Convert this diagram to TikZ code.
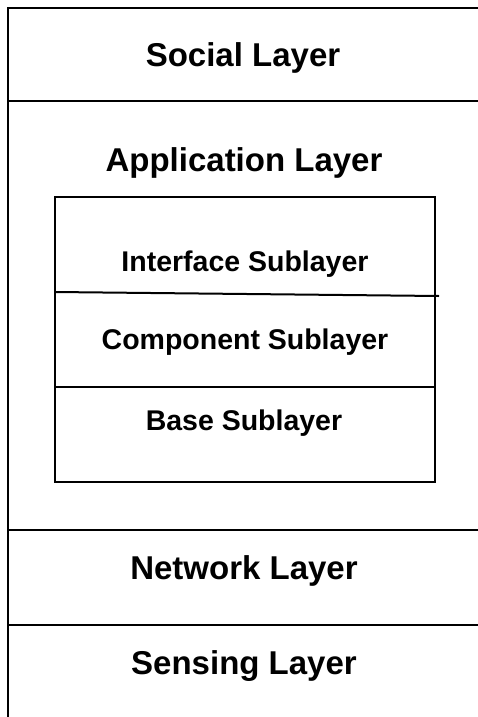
\documentclass[tikz,border=0pt]{standalone}
\usepackage{fontspec}
\setmainfont{Liberation Sans}
\tikzset{
  line/.style={line width=2pt, black},
  layertext/.style={font=\fontsize{33}{38}\selectfont\bfseries, inner sep=0pt, anchor=center},
  subtext/.style={font=\fontsize{28.5}{33}\selectfont\bfseries, inner sep=0pt, anchor=center}
}
\begin{document}
\begin{tikzpicture}[x=1pt,y=-1pt]
\useasboundingbox (0,0) rectangle (478,717);
% outer frame
\coordinate (tl) at (8,8);
\coordinate (tr) at (480,8);
\coordinate (bl) at (8,720);
\draw[line] (tr) -- (tl) -- (bl);
\coordinate (h1l) at (8,101); \coordinate (h1r) at (480,101);
\coordinate (h2l) at (8,530); \coordinate (h2r) at (480,530);
\coordinate (h3l) at (8,625); \coordinate (h3r) at (480,625);
\draw[line] (h1l) -- (h1r);
\draw[line] (h2l) -- (h2r);
\draw[line] (h3l) -- (h3r);
% inner box
\coordinate (ia) at (55,197);
\coordinate (ib) at (435,482);
\draw[line] (ia) rectangle (ib);
\coordinate (s1l) at (55,292); \coordinate (s1r) at (439,296);
\coordinate (s2l) at (55,387); \coordinate (s2r) at (435,387);
\draw[line] (s1l) -- (s1r);
\draw[line] (s2l) -- (s2r);
% texts
\node[layertext] (social) at (243,58) {Social Layer};
\node[layertext] (app) at (244,163) {Application Layer};
\node[subtext] (iface) at (245,264) {Interface Sublayer};
\node[subtext] (comp) at (245,342) {Component Sublayer};
\node[subtext] (base) at (244,423) {Base Sublayer};
\node[layertext] (net) at (244,571) {Network Layer};
\node[layertext] (sens) at (244,666) {Sensing Layer};
\end{tikzpicture}
\end{document}
